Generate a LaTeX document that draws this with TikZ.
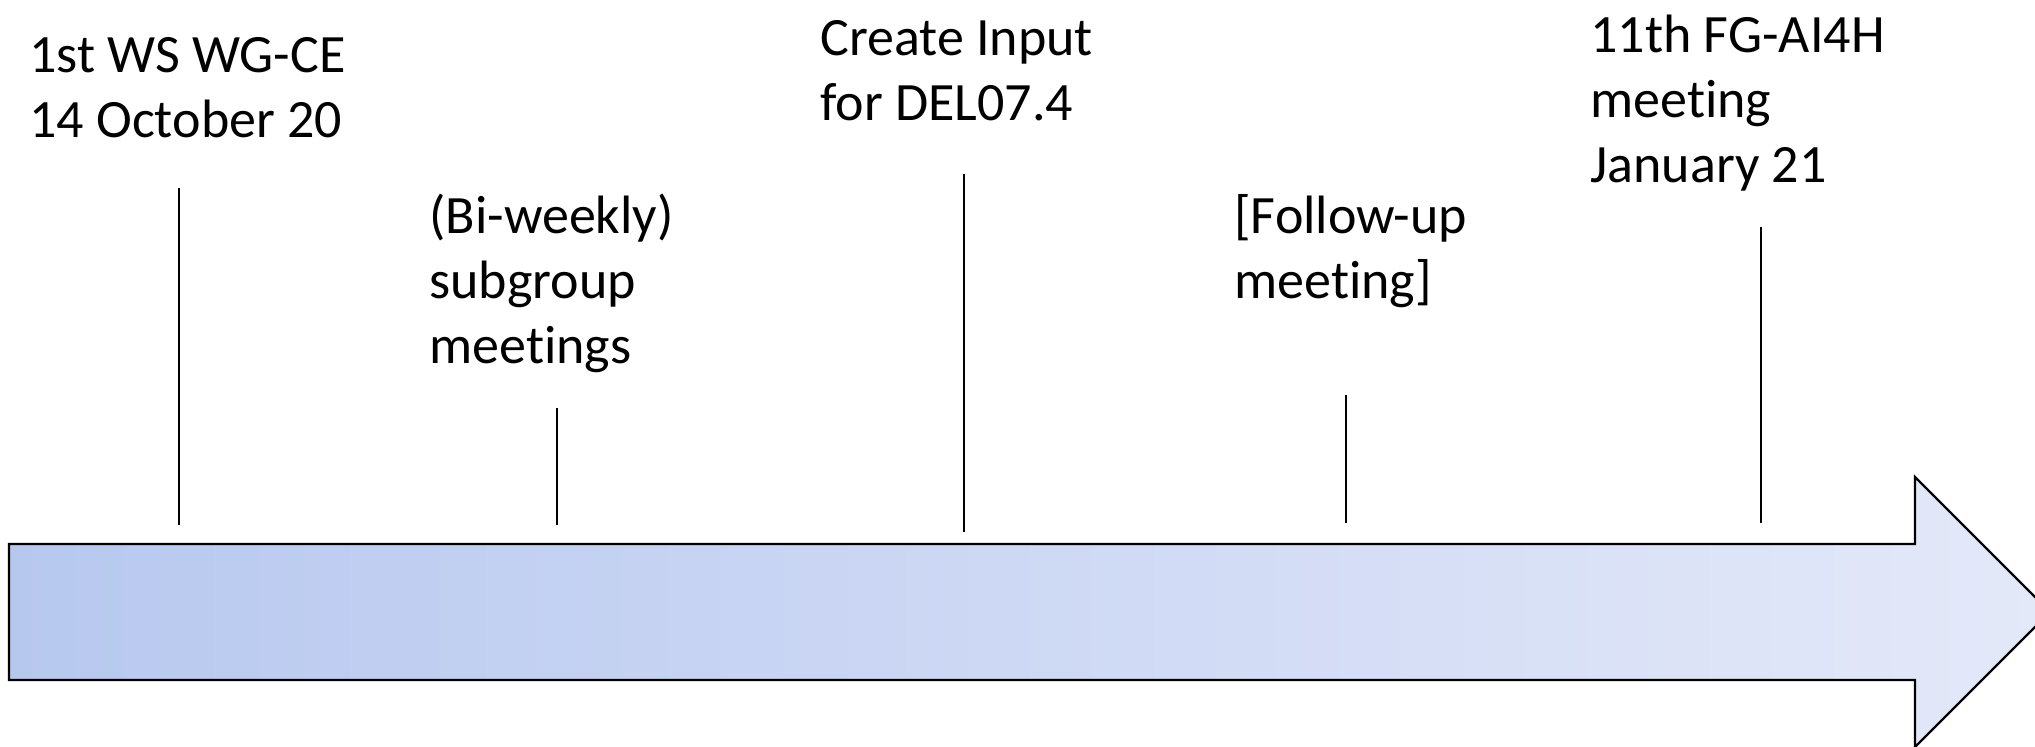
\documentclass[tikz,border=0pt]{standalone}
\usepackage{fontspec}
\setmainfont{Carlito}[Ligatures=NoCommon]
\definecolor{arrowleft}{RGB}{183,200,239}
\definecolor{arrowright}{RGB}{228,233,249}
\tikzset{
  label/.style={anchor=base west, inner sep=0pt, font=\fontsize{27}{32.5}\selectfont},
  tick/.style={draw=black, line width=1pt},
  timearrow/.style={draw=black, line width=1.2pt, line join=miter, left color=arrowleft, right color=arrowright}
}
\newcommand{\lbl}[1]{\begin{tabular}[t]{@{}l@{}}#1\end{tabular}}
\begin{document}
\begin{tikzpicture}[x=0.5pt,y=-0.5pt]
\useasboundingbox (0,0) rectangle (2035,746);
\clip (0,0) rectangle (2035,746);
% timeline arrow
\draw[timearrow] (9,544) -- (1915,544) -- (1915,477) -- (2050,612) -- (1915,747) -- (1915,680) -- (9,680) -- cycle;
% labels
\node[label] (ws)   at (29,72)   {\lbl{1st WS WG-CE\\14 October 20}};
\node[label] (sub)  at (429,233) {\lbl{(Bi-weekly)\\subgroup\\meetings}};
\node[label] (inp)  at (820,55)  {\lbl{Create Input\\for DEL07.4}};
\node[label] (fol)  at (1234,233){\lbl{[Follow-up\\meeting]}};
\node[label] (fg)   at (1590,52) {\lbl{11th FG-AI4H\\meeting\\January 21}};
% tick marks
\coordinate (t1a) at (179,188);  \coordinate (t1b) at (179,525);
\coordinate (t2a) at (557,408);  \coordinate (t2b) at (557,525);
\coordinate (t3a) at (964,174);  \coordinate (t3b) at (964,532);
\coordinate (t4a) at (1346,395); \coordinate (t4b) at (1346,523);
\coordinate (t5a) at (1761,227); \coordinate (t5b) at (1761,523);
\draw[tick] (t1a) -- (t1b);
\draw[tick] (t2a) -- (t2b);
\draw[tick] (t3a) -- (t3b);
\draw[tick] (t4a) -- (t4b);
\draw[tick] (t5a) -- (t5b);
\end{tikzpicture}
\end{document}
